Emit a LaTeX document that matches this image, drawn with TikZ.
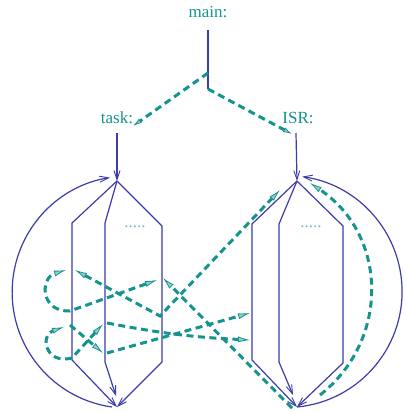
\documentclass[tikz,border=0pt]{standalone}
\usepackage{fontspec}
\setmainfont{Liberation Serif}
\usepackage{xcolor}
\usetikzlibrary{arrows.meta}
\definecolor{ctrlblue}{RGB}{60,60,170}
\definecolor{flowteal}{RGB}{20,148,142}

\begin{document}
\begin{tikzpicture}[
      x=1pt, y=1pt,
      lbl/.style={
         text=flowteal,
         inner sep=0pt,
         font=\fontsize{17}{20}\selectfont},
      thread/.style={draw=ctrlblue, line width=1.2pt},
      ctrl/.style={thread, -{Straight Barb[length=9pt,width=6pt,line width=0.9pt]}},
      flow/.style={
         draw=flowteal,
         line width=3pt,
         dash pattern=on 7pt off 4.5pt},
      myarrow/.style={-{Latex[open,fill=flowteal!45,length=12pt,width=6pt,line width=0.8pt]}},
      shortarrow/.style={-{Latex[open,fill=flowteal!45,length=9pt,width=5pt,line width=0.8pt]}},
      bothways/.style={{Latex[open,fill=flowteal!45,length=12pt,width=6pt,line width=0.8pt]}-{Latex[open,fill=flowteal!45,length=12pt,width=6pt,line width=0.8pt]}}
      ]
\useasboundingbox (0,0) rectangle (405,-413);

\node[lbl] (main) at (208,-12) {main:};
\node[lbl] (task) at (117,-118) {task:};
\node[lbl] (isr)  at (298,-118) {ISR:};

\coordinate (m0) at (208,-30);
\coordinate (m1) at (208,-73);
\coordinate (m2) at (208,-89);
\coordinate (mt) at (133,-126);
\coordinate (mi) at (292,-134);

% task threads
\coordinate (t0)  at (117,-133);
\coordinate (tT)  at (117,-181);
\coordinate (tB)  at (117,-407);
\coordinate (tL1) at (72,-223);
\coordinate (tL2) at (72,-360);
\coordinate (tM1) at (105,-223);
\coordinate (tM2) at (105,-362);
\coordinate (tMe) at (116,-396);
\coordinate (tR1) at (162,-226);
\coordinate (tR2) at (162,-362);
% ISR threads
\coordinate (i0)  at (296,-133);
\coordinate (iT)  at (297,-181);
\coordinate (iB)  at (297,-407);
\coordinate (iL1) at (252,-224);
\coordinate (iL2) at (252,-360);
\coordinate (iM1) at (279,-224);
\coordinate (iM2) at (279,-362);
\coordinate (iMe) at (293,-395);
\coordinate (iR1) at (343,-226);
\coordinate (iR2) at (343,-363);

\node[lbl,anchor=base,text=flowteal!60] (tdots) at (135,-227) {.....};
\node[lbl,anchor=base,text=flowteal!60] (idots) at (311,-227) {.....};

\draw[thread] (m0) -- (m2);
\foreach \s in {t,i}{
   \draw[ctrl] (\s0) -- (\s T);
   \draw[ctrl] (\s T) -- (\s L1) -- (\s L2) -- (\s B);
   \draw[ctrl] (\s T) -- (\s M1) -- (\s M2) -- (\s Me);
   \draw[ctrl] (\s T) -- (\s R1) -- (\s R2) -- (\s B);
}
\draw[ctrl] ([xshift=-5pt]tB) arc[start angle=262, end angle=99, radius=116];
\draw[ctrl] (iB) arc[start angle=-84.6, end angle=82, radius=116];

% context switches
\coordinate (a0) at (75,-270);
\coordinate (a1) at (160,-316);
\coordinate (a2) at (280,-190);
\coordinate (b0) at (292,-408);
\coordinate (b1) at (163,-278);
\coordinate (d0) at (157,-280);
\coordinate (d1) at (70,-311);
\coordinate (d2) at (66,-270);
\coordinate (e0) at (103,-324);
\coordinate (e1) at (72,-358);
\coordinate (e2) at (64,-327);
\coordinate (f0) at (70,-325);
\coordinate (f1) at (103,-353);
\coordinate (g0) at (107,-353);
\coordinate (g1) at (250,-313);
\coordinate (h0) at (107,-323);
\coordinate (h1) at (250,-340);
\coordinate (r0) at (320,-395);
\coordinate (r1) at (310,-183);

\draw[flow,shortarrow] (m1) -- (mt);
\draw[flow,shortarrow] (m2) -- (mi);
\draw[flow,bothways] (a0) -- (a1) -- (a2);
\draw[flow,myarrow] (b0) -- (b1);
\draw[flow,bothways] (d0) -- (d1) .. controls (40,-312) and (40,-278) .. (d2);
\draw[flow,bothways] (e0) -- (e1) .. controls (45,-365) and (40,-335) .. (e2);
\draw[flow,myarrow] (f0) -- (f1);
\draw[flow,myarrow] (g0) -- (g1);
\draw[flow,myarrow] (h0) to[bend right=4] (h1);
\draw[flow,myarrow] (r0) .. controls (390,-340) and (388,-235) .. (r1);

\end{tikzpicture}
\end{document}
